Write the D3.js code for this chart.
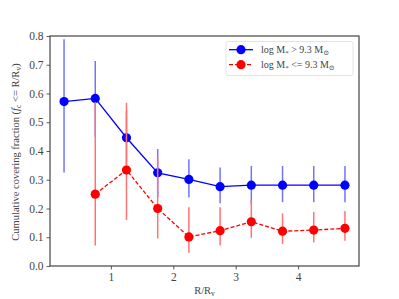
<!DOCTYPE html>
<html><head><meta charset="utf-8">
<script src="https://cdn.jsdelivr.net/npm/d3@7"></script>
<style>body{margin:0;background:#fff}svg text{font-family:"Liberation Serif","DejaVu Serif",serif !important;fill:#444}</style>
</head><body>
<svg id="c" width="399" height="299"></svg>
<script>
const xs = [0.25,0.75,1.25,1.75,2.25,2.75,3.25,3.75,4.25,4.75];
const blueY  = [0.572,0.583,0.446,0.324,0.301,0.276,0.281,0.281,0.281,0.281];
const blueLo = [0.325,0.45,0.35,0.24,0.238,0.218,0.215,0.222,0.222,0.222];
const blueHi = [0.789,0.713,0.54,0.407,0.371,0.343,0.348,0.348,0.348,0.348];
const redX  = [0.75,1.25,1.75,2.25,2.75,3.25,3.75,4.25,4.75];
const redY  = [0.25,0.334,0.20,0.101,0.123,0.154,0.121,0.125,0.131];
const redLo = [0.071,0.16,0.096,0.046,0.071,0.098,0.077,0.082,0.088];
const redHi = [0.57,0.568,0.378,0.204,0.204,0.23,0.183,0.188,0.191];
const xTicks = [1,2,3,4];
const yTicks = [0,0.1,0.2,0.3,0.4,0.5,0.6,0.7,0.8];

const svg = d3.select("#c");
const L=50,R=359,T=36,B=266;
const x = d3.scaleLinear().domain([0.025,4.975]).range([L,R]);
const y = d3.scaleLinear().domain([0,0.8]).range([B,T]);

const gx = svg.append("g").attr("transform",`translate(0,${B})`)
  .call(d3.axisBottom(x).tickValues(xTicks).tickFormat(d3.format("d")).tickSize(3.5).tickPadding(3));
const gy = svg.append("g").attr("transform",`translate(${L},0)`)
  .call(d3.axisLeft(y).tickValues(yTicks).tickFormat(d3.format(".1f")).tickSize(3.5).tickPadding(3));
[gx,gy].forEach(g=>{g.attr("font-family","Liberation Serif").attr("font-size",11.5);
  g.select(".domain").remove();g.selectAll("line").attr("stroke","#333").attr("stroke-width",0.8);
  g.selectAll("text").attr("fill","#444");});
svg.append("rect").attr("x",L).attr("y",T).attr("width",R-L).attr("height",B-T)
  .attr("fill","none").attr("stroke","#444").attr("stroke-width",1.2);

function series(X,Y,Lo,Hi,col,ecol,dash){
  const g=svg.append("g");
  g.selectAll(".e").data(X).join("line").attr("x1",d=>x(d)).attr("x2",d=>x(d))
    .attr("y1",(d,i)=>y(Lo[i])).attr("y2",(d,i)=>y(Hi[i]))
    .attr("stroke",ecol).attr("stroke-width",1.5);
  const line=d3.line().x(d=>x(d[0])).y(d=>y(d[1]));
  g.append("path").datum(X.map((d,i)=>[d,Y[i]])).attr("d",line).attr("fill","none")
    .attr("stroke",col).attr("stroke-width",1.3).attr("stroke-dasharray",dash||null);
  g.selectAll(".m").data(X).join("circle").attr("cx",d=>x(d)).attr("cy",(d,i)=>y(Y[i])).attr("r",4.6).attr("fill",col);
}
series(xs,blueY,blueLo,blueHi,"#0000ff","#7373ff");
series(redX,redY,redLo,redHi,"#ff0000","#ff7373","4,2");

svg.append("text").attr("x",(L+R)/2).attr("y",294).attr("text-anchor","middle").attr("font-size",10.5)
  .html('R/R<tspan font-size="7.5" dy="2">v</tspan>');
const yl=svg.append("text").attr("transform",`translate(19,${(T+B)/2+1}) rotate(-90)`).attr("text-anchor","middle").attr("font-size",10.5);
yl.html('Cumulative covering fraction (<tspan font-style="italic">f</tspan><tspan font-size="7.5" dy="2">c</tspan><tspan dy="-2"> &lt;= R/R</tspan><tspan font-size="7.5" dy="2">v</tspan><tspan dy="-2">)</tspan>');

const lg=svg.append("g");
lg.append("rect").attr("x",226).attr("y",41.5).attr("width",127).attr("height",34).attr("rx",2)
  .attr("fill","#fff").attr("fill-opacity",0.8).attr("stroke","#ddd").attr("stroke-width",0.8);
const ent=[{c:"#0000ff",d:null,t:'log M<tspan font-size="7" dy="2">*</tspan><tspan dy="-2"> &gt; 9.3 M</tspan><tspan font-size="7" dy="2">⊙</tspan>'},
           {c:"#ff0000",d:"4,2",t:'log M<tspan font-size="7" dy="2">*</tspan><tspan dy="-2"> &lt;= 9.3 M</tspan><tspan font-size="7" dy="2">⊙</tspan>'}];
ent.forEach((e,i)=>{const yy=49.7+i*15;
  lg.append("line").attr("x1",229).attr("x2",253).attr("y1",yy).attr("y2",yy).attr("stroke",e.c).attr("stroke-width",1.3).attr("stroke-dasharray",e.d);
  lg.append("circle").attr("cx",241).attr("cy",yy).attr("r",4.6).attr("fill",e.c);
  lg.append("text").attr("x",261).attr("y",yy+3.5).attr("font-size",10).html(e.t);
});
</script>
</body></html>
